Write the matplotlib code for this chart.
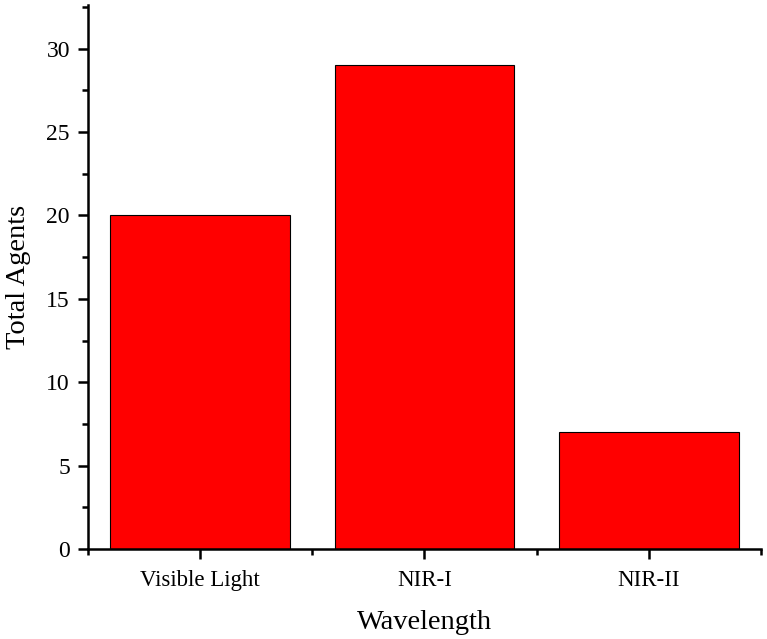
import matplotlib
matplotlib.use("Agg")
import matplotlib.pyplot as plt
from matplotlib.ticker import MultipleLocator, FixedLocator

categories = ['Visible Light', 'NIR-I', 'NIR-II']
totals = [20, 29, 7]

plt.rcParams['font.family'] = ['Liberation Serif', 'DejaVu Serif']

fig = plt.figure(figsize=(7.67, 6.39), dpi=100)
ax = fig.add_axes([0.1147, 0.1408, 0.8775, 0.851])

x = list(range(len(categories)))
ax.bar(x, totals, width=0.8, color='#ff0000', edgecolor='black', linewidth=0.8)

ax.set_xlim(-0.5, len(categories) - 0.5)
ax.set_ylim(0, 32.6)
ax.set_xticks(x)
ax.set_xticklabels(categories, fontsize=16.5)
ax.xaxis.set_minor_locator(FixedLocator([i - 0.5 for i in range(len(categories) + 1)]))
ax.yaxis.set_major_locator(MultipleLocator(5))
ax.yaxis.set_minor_locator(MultipleLocator(2.5))
ax.tick_params(axis='y', labelsize=17, pad=6)
ax.tick_params(axis='x', which='major', pad=8)

for s in ['top', 'right']:
    ax.spines[s].set_visible(False)
for s in ['left', 'bottom']:
    ax.spines[s].set_linewidth(1.8)

ax.tick_params(which='major', direction='out', length=7, width=1.8)
ax.tick_params(which='minor', direction='out', length=4, width=1.8)

ax.set_xlabel('Wavelength', fontsize=20.5, labelpad=14)
ax.set_ylabel('Total Agents', fontsize=20.5, labelpad=11)

fig.savefig('out.png', dpi=100)
